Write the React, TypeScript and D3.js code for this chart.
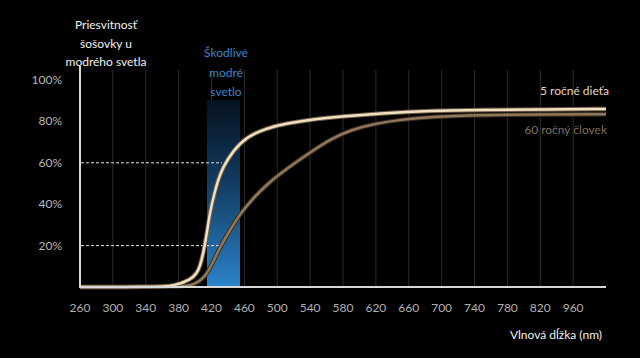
import React from "react";
import * as d3 from "d3";

const xTickLabels = ["260","300","340","380","420","460","500","540","580","620","660","700","740","780","820","960"];
const yTicks = [20, 40, 60, 80, 100];
const dashedLevels = [20, 60];

const childWl = [260, 350, 375, 394, 402, 406, 410, 414, 418, 424, 428, 434, 446.6, 463, 487, 511, 544, 576, 625, 686, 747, 820, 900];
const childVal = [0, 0, 0.5, 3.4, 6.5, 10, 16.3, 25, 36, 46, 51.7, 58, 66, 72.6, 76.7, 79, 81, 82.3, 83.9, 85.2, 85.5, 85.8, 86];
const adultWl = [260, 380, 394, 405, 414, 422, 430, 442.5, 455, 471, 487, 511, 540, 565, 590, 620, 650, 686, 747, 820, 900];
const adultVal = [0, 0, 0.6, 2.5, 6, 12, 19, 27.5, 35.5, 43, 49.5, 57, 65, 71.5, 76, 79, 80.8, 82.2, 83.1, 83.4, 83.5];
const blueBand = [414.5, 454.7];

const W = 640, H = 358;

export default function App() {
  const x = d3.scaleLinear().domain([260, 900]).range([80, 606]);
  const y = d3.scaleLinear().domain([0, 100]).range([287, 80]);
  const line = d3.line<[number, number]>().x(d => x(d[0])).y(d => y(d[1])).curve(d3.curveBasis);
  const child = line(childWl.map((w, i) => [w, childVal[i]] as [number, number])) || "";
  const adult = line(adultWl.map((w, i) => [w, adultVal[i]] as [number, number])) || "";
  const font = "Lato, 'Open Sans', sans-serif";
  const tickPos = xTickLabels.map((_, i) => x(260 + 40 * i));
  return (
    <svg width={W} height={H} style={{ position: "absolute", left: 0, top: 0, background: "#000" }} fontFamily={font}>
      <defs>
        <linearGradient id="blueGrad" x1="0" y1="0" x2="0" y2="1">
          <stop offset="0" stopColor="#06121f" />
          <stop offset="0.45" stopColor="#123c62" />
          <stop offset="1" stopColor="#2b83ca" />
        </linearGradient>
      </defs>
      <rect x={0} y={0} width={W} height={H} fill="#000" />
      {tickPos.slice(1).map((p, i) => (
        <line key={i} x1={p} x2={p} y1={70} y2={287} stroke="#2c2c2c" strokeWidth={1} />
      ))}
      <rect x={x(blueBand[0])} y={100} width={x(blueBand[1]) - x(blueBand[0])} height={187} fill="url(#blueGrad)" />
      {dashedLevels.map(v => (
        <line key={v} x1={81} x2={222} y1={y(v)} y2={y(v)} stroke="#e8e8e8" strokeWidth={1} strokeDasharray="3,2" />
      ))}
      <path d={adult} fill="none" stroke="#3a2f22" strokeWidth={4.5} />
      <path d={adult} fill="none" stroke="#8e7859" strokeWidth={2.5} />
      <path d={child} fill="none" stroke="#6b5a44" strokeWidth={4.5} />
      <path d={child} fill="none" stroke="#f0dfc0" strokeWidth={2.5} />
      <line x1={80} x2={80} y1={66} y2={288} stroke="#d8d8d8" strokeWidth={2} />
      <line x1={79} x2={606} y1={287} y2={287} stroke="#d8d8d8" strokeWidth={2} />
      {yTicks.map(v => (
        <text key={v} x={62} y={y(v) + 4} textAnchor="end" fill="#b8b8b8" fontSize={12}>{v}%</text>
      ))}
      {xTickLabels.map((l, i) => (
        <text key={l} x={tickPos[i]} y={312} textAnchor="middle" fill="#b0b0b0" fontSize={12}>{l}</text>
      ))}
      {["Priesvitnosť", "šošovky u", "modrého svetla"].map((t, i) => (
        <text key={t} x={106} y={29 + i * 18.5} textAnchor="middle" fill="#f2f2f2" fontSize={12}>{t}</text>
      ))}
      {["Škodlivé", "modré", "svetlo"].map((t, i) => (
        <text key={t} x={226} y={57 + i * 19.5} textAnchor="middle" fill="#3a86c8" fontSize={12}>{t}</text>
      ))}
      <text x={609} y={95} textAnchor="end" fill="#e6d6bd" fontSize={12}>5 ročné dieťa</text>
      <text x={607} y={134} textAnchor="end" fill="#7d6d5c" fontSize={12}>60 ročný človek</text>
      <text x={602} y={339} textAnchor="end" fill="#f0f0f0" fontSize={12}>Vlnová dĺžka (nm)</text>
    </svg>
  );
}
